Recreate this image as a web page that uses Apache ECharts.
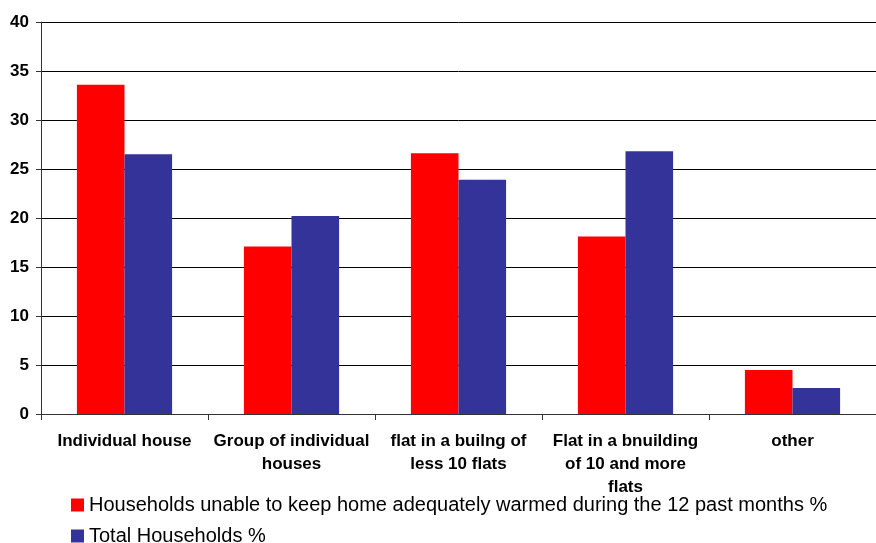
<!DOCTYPE html>
<html><head><meta charset="utf-8">
<script src="https://cdn.jsdelivr.net/npm/echarts@6/dist/echarts.min.js"></script>
<style>html,body{margin:0;padding:0;background:#fff}#c{width:876px;height:543px}</style>
</head><body><div id="c"></div>
<script>
const categories = ["Individual house", "Group of individual\nhouses", "flat in a builng of\nless 10 flats", "Flat in a bnuilding\nof 10 and more\nflats", "other"];
const seriesNames = ["Households unable to keep home adequately warmed during the 12 past months %", "Total Households %"];
const unableValues = [33.6, 17.1, 26.6, 18.1, 4.5];
const totalValues = [26.5, 20.2, 23.9, 26.8, 2.65];
const yTicks = {min: 0, max: 40, interval: 5};

const legendText = {fontFamily: 'Liberation Sans, Arial', fontSize: 20, color: '#000', lineHeight: 22};
const chart = echarts.init(document.getElementById('c'), null, {renderer: 'canvas'});
chart.setOption({
  animation: false,
  grid: {left: 41, right: -7, top: 22, bottom: 129, containLabel: false},
  legend: [
    {left: 71, top: 494, padding: 0, itemWidth: 13, itemHeight: 13, itemGap: 5, icon: 'rect', textStyle: legendText, data: [seriesNames[0]], selectedMode: false},
    {left: 71, top: 525, padding: 0, itemWidth: 13, itemHeight: 13, itemGap: 5, icon: 'rect', textStyle: legendText, data: [seriesNames[1]], selectedMode: false}
  ],
  xAxis: {
    type: 'category', data: categories,
    axisLine: {lineStyle: {color: '#333', width: 1}},
    axisTick: {show: true, length: 6, inside: false, lineStyle: {color: '#333'}},
    axisLabel: {interval: 0, margin: 16, fontFamily: 'Liberation Sans, Arial', fontWeight: 'bold', fontSize: 17, color: '#000', lineHeight: 23}
  },
  yAxis: {
    type: 'value', min: yTicks.min, max: yTicks.max, interval: yTicks.interval,
    axisLine: {show: true, lineStyle: {color: '#333', width: 1}},
    axisTick: {show: true, length: 5, lineStyle: {color: '#333'}},
    splitLine: {lineStyle: {color: '#000', width: 1}},
    axisLabel: {margin: 12, fontFamily: 'Liberation Sans, Arial', fontWeight: 'bold', fontSize: 17, color: '#000'}
  },
  series: [
    {name: seriesNames[0], type: 'bar', data: unableValues, itemStyle: {color: '#ff0000'}, barGap: '0%', barCategoryGap: '43%'},
    {name: seriesNames[1], type: 'bar', data: totalValues, itemStyle: {color: '#333399'}, barGap: '0%', barCategoryGap: '43%'}
  ]
});
</script></body></html>
